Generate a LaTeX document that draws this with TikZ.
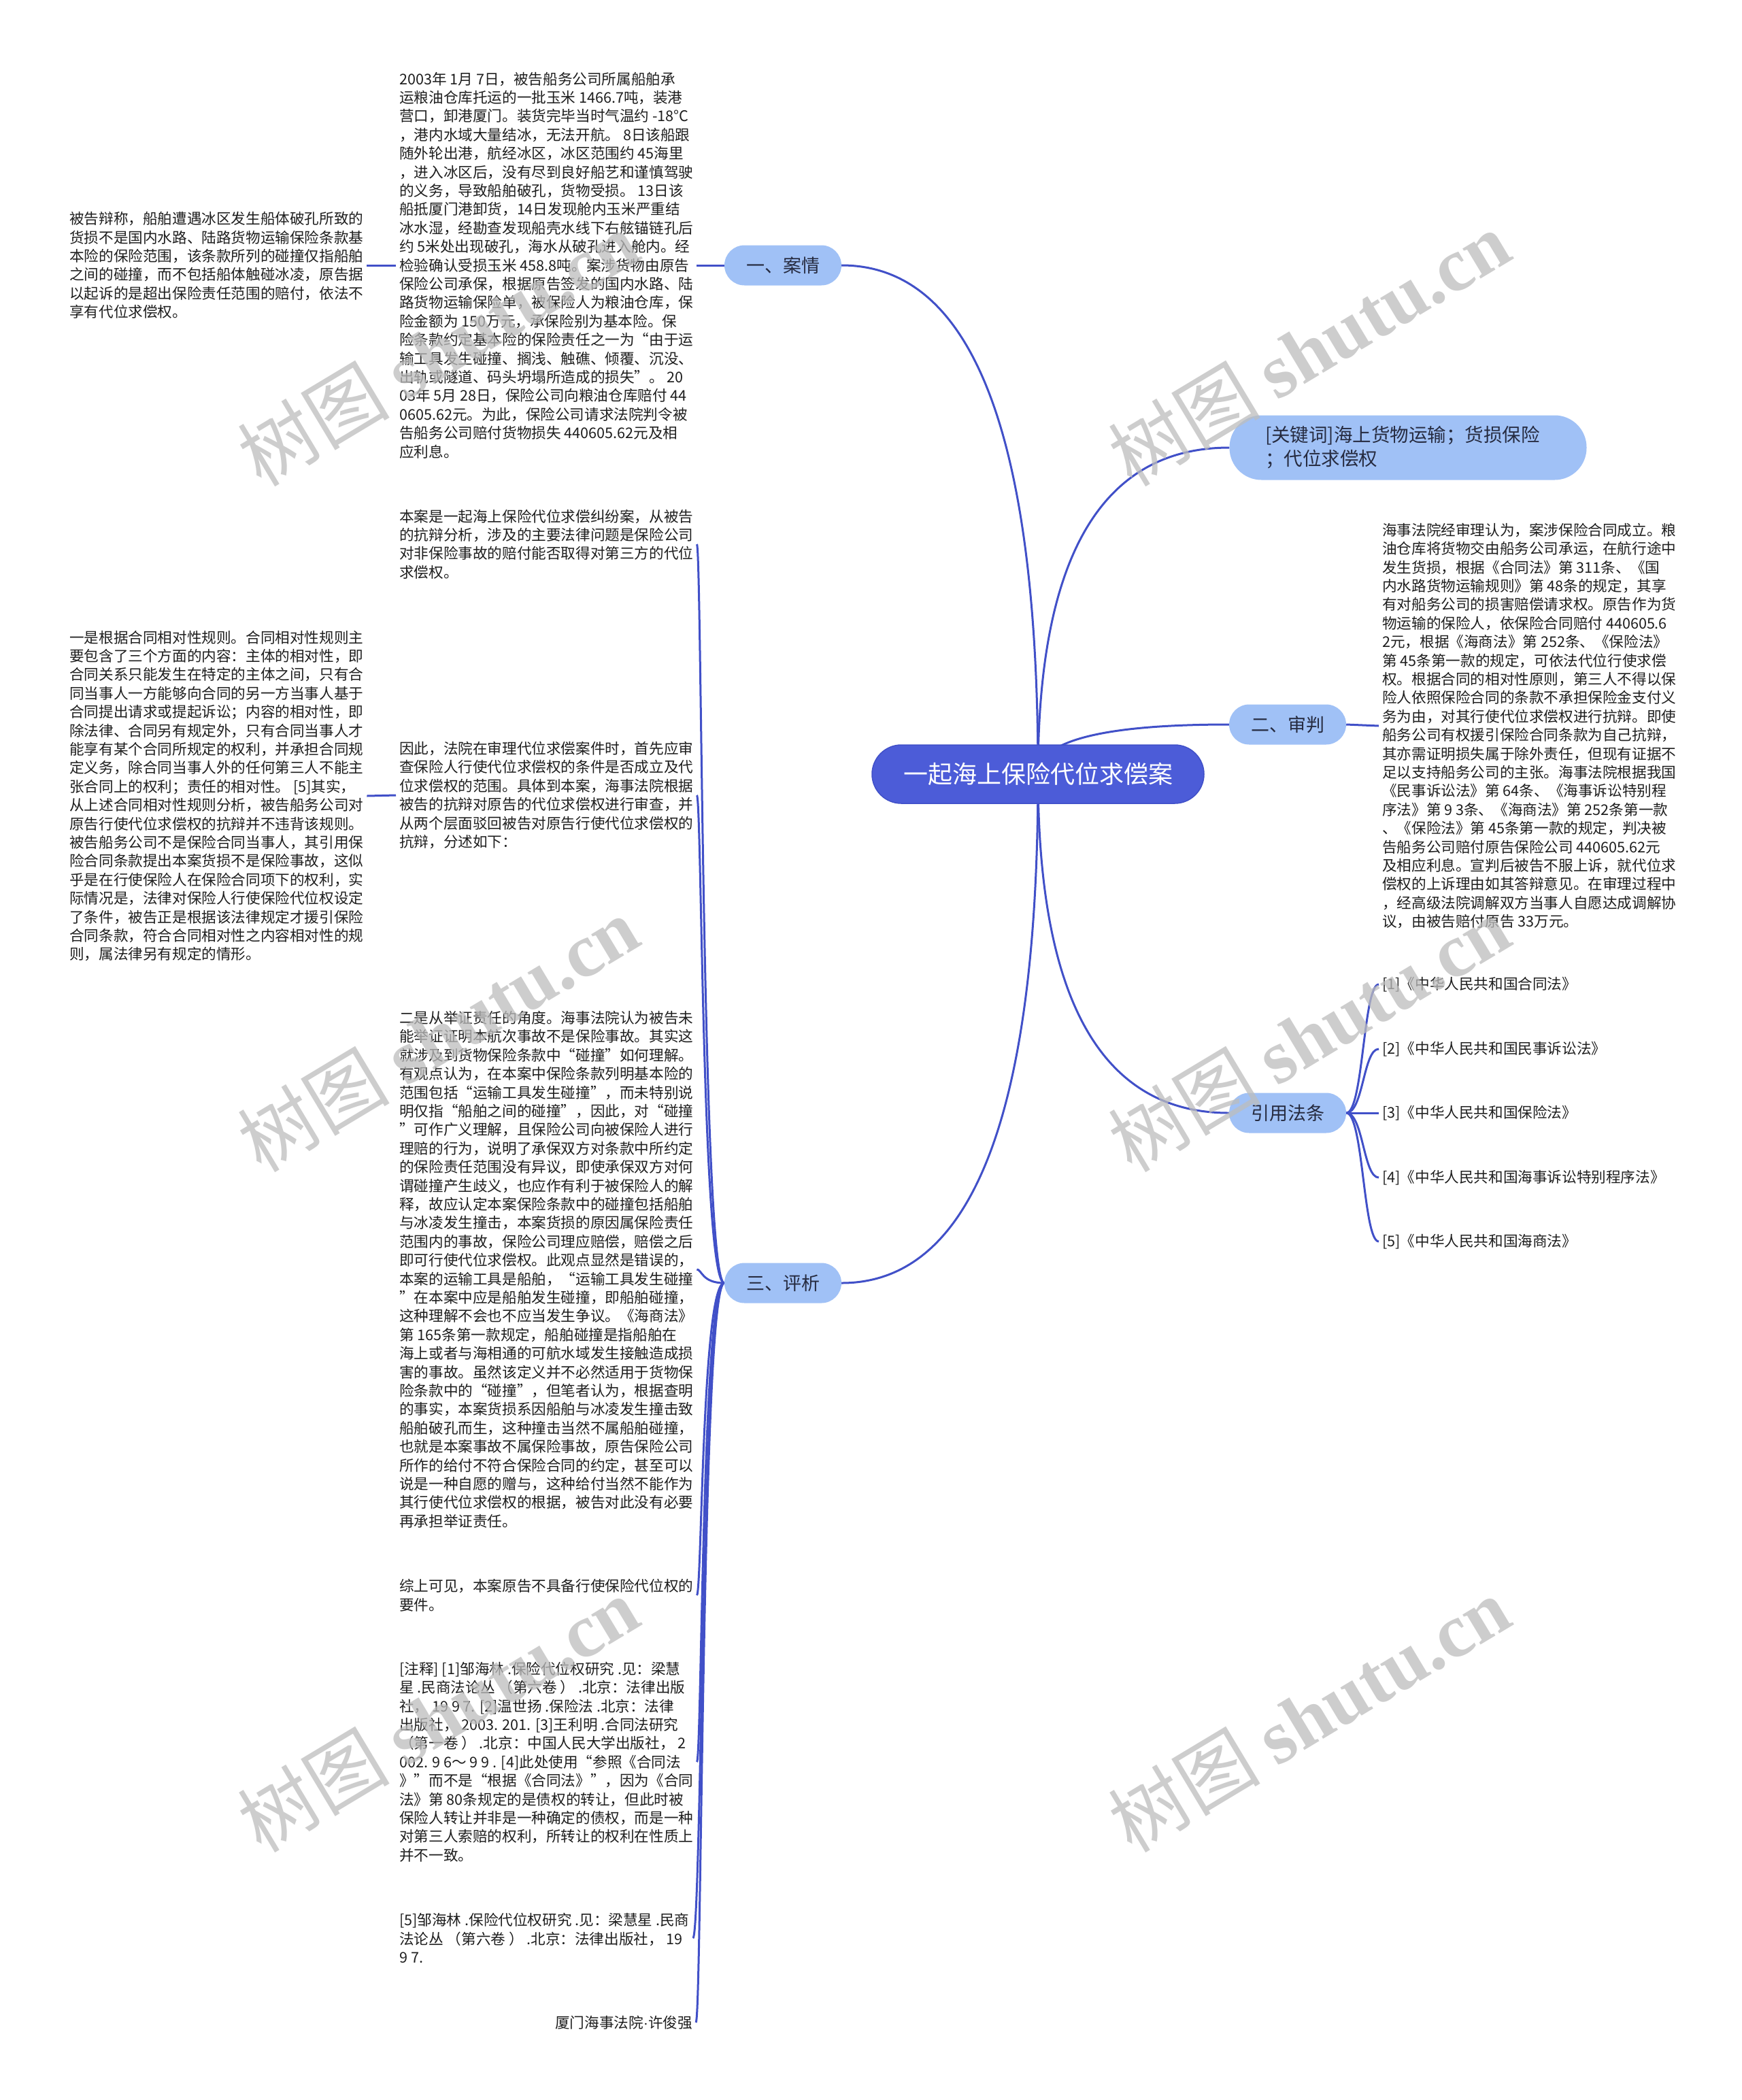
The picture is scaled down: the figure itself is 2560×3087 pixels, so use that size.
\documentclass[tikz,border=0pt]{standalone}
\usepackage{fontspec}
\setmainfont{Noto Sans CJK SC}
\newfontfamily\wmlatin{Liberation Serif}
\newfontfamily\dotfont{Liberation Sans}
\usetikzlibrary{calc}
\definecolor{rootblue}{HTML}{4C5CD8}
\definecolor{rootedge}{HTML}{4050C8}
\definecolor{branchblue}{HTML}{A0C1F6}
\definecolor{linecol}{HTML}{4150C8}
\definecolor{txt}{HTML}{1E1E1E}
\definecolor{branchtext}{HTML}{262B40}
\definecolor{wmgray}{HTML}{BDBDBD}
\pgfdeclarelayer{bg}
\pgfsetlayers{bg,main}
\tikzset{
  rootbox/.style={rounded corners=43pt, fill=rootblue, draw=rootedge, line width=1.5pt,
    minimum width=488pt, minimum height=86pt, inner sep=0pt, text=white,
    font=\fontsize{36}{40}\selectfont},
  branchbox/.style={rounded corners=29.5pt, fill=branchblue, minimum width=172pt,
    minimum height=59pt, inner sep=0pt, text=branchtext, font=\fontsize{27}{32}\selectfont},
  kwbox/.style={rounded corners=47pt, fill=branchblue, minimum width=525pt, minimum height=95pt,
    text width=420pt, align=left, inner xsep=52.5pt, inner ysep=0pt, text=branchtext,
    font=\fontsize{27.5}{35}\selectfont},
  leaf/.style={align=left, anchor=west, inner xsep=5pt, inner ysep=0pt, text=txt,
    font=\fontsize{21.6}{27.4}\selectfont},
  conn/.style={draw=linecol, line width=3pt},
  wmark/.style={rotate=31, text=wmgray, opacity=0.75, inner sep=0pt,
    font=\fontsize{112}{120}\selectfont}
}
\begin{document}
\begin{tikzpicture}[x=1pt,y=-1pt]
\useasboundingbox (0,0) rectangle (2560,3087);

% main nodes
\node[rootbox] (root) at (1526,1138) {一起海上保险代位求偿案};
\node[branchbox] (anqing) at (1151,390) {一、案情};
\node[branchbox] (pingxi) at (1151,1886) {三、评析};
\node[branchbox] (shenpan) at (1893,1065) {二、审判};
\node[branchbox] (fatiao) at (1893,1636) {引用法条};
\node[kwbox] (kw) at (2070,658) {[关键词]海上货物运输；货损保险\\；代位求偿权};

% 案情
\node[leaf] (a1) at (582,390) {2003年 1月 7日，被告船务公司所属船舶承\\
运粮油仓库托运的一批玉米 1466.7吨，装港\\
营口，卸港厦门。装货完毕当时气温约 -18°C\\
，港内水域大量结冰，无法开航。 8日该船跟\\
随外轮出港，航经冰区，冰区范围约 45海里\\
，进入冰区后，没有尽到良好船艺和谨慎驾驶\\
的义务，导致船舶破孔，货物受损。 13日该\\
船抵厦门港卸货，14日发现舱内玉米严重结\\
冰水湿，经勘查发现船壳水线下右舷锚链孔后\\
约 5米处出现破孔，海水从破孔进入舱内。经\\
检验确认受损玉米 458.8吨。案涉货物由原告\\
保险公司承保，根据原告签发的国内水路、陆\\
路货物运输保险单，被保险人为粮油仓库，保\\
险金额为 150万元，承保险别为基本险。保\\
险条款约定基本险的保险责任之一为“由于运\\
输工具发生碰撞、搁浅、触礁、倾覆、沉没、\\
出轨或隧道、码头坍塌所造成的损失”。 20\\
03年 5月 28日，保险公司向粮油仓库赔付 44\\
0605.62元。为此，保险公司请求法院判令被\\
告船务公司赔付货物损失 440605.62元及相\\
应利息。};
\node[leaf] (a2) at (97,390) {被告辩称，船舶遭遇冰区发生船体破孔所致的\\
货损不是国内水路、陆路货物运输保险条款基\\
本险的保险范围，该条款所列的碰撞仅指船舶\\
之间的碰撞，而不包括船体触碰冰凌，原告据\\
以起诉的是超出保险责任范围的赔付，依法不\\
享有代位求偿权。};

% 评析
\node[leaf] (p1) at (582,800) {本案是一起海上保险代位求偿纠纷案，从被告\\
的抗辩分析，涉及的主要法律问题是保险公司\\
对非保险事故的赔付能否取得对第三方的代位\\
求偿权。};
\node[leaf] (p2) at (582,1169) {因此，法院在审理代位求偿案件时，首先应审\\
查保险人行使代位求偿权的条件是否成立及代\\
位求偿权的范围。具体到本案，海事法院根据\\
被告的抗辩对原告的代位求偿权进行审查，并\\
从两个层面驳回被告对原告行使代位求偿权的\\
抗辩，分述如下：};
\node[leaf] (p2a) at (97,1170) {一是根据合同相对性规则。合同相对性规则主\\
要包含了三个方面的内容：主体的相对性，即\\
合同关系只能发生在特定的主体之间，只有合\\
同当事人一方能够向合同的另一方当事人基于\\
合同提出请求或提起诉讼；内容的相对性，即\\
除法律、合同另有规定外，只有合同当事人才\\
能享有某个合同所规定的权利，并承担合同规\\
定义务，除合同当事人外的任何第三人不能主\\
张合同上的权利；责任的相对性。 [5]其实，\\
从上述合同相对性规则分析，被告船务公司对\\
原告行使代位求偿权的抗辩并不违背该规则。\\
被告船务公司不是保险合同当事人，其引用保\\
险合同条款提出本案货损不是保险事故，这似\\
乎是在行使保险人在保险合同项下的权利，实\\
际情况是，法律对保险人行使保险代位权设定\\
了条件，被告正是根据该法律规定才援引保险\\
合同条款，符合合同相对性之内容相对性的规\\
则，属法律另有规定的情形。};
\node[leaf] (p3) at (582,1866) {二是从举证责任的角度。海事法院认为被告未\\
能举证证明本航次事故不是保险事故。其实这\\
就涉及到货物保险条款中“碰撞”如何理解。\\
有观点认为，在本案中保险条款列明基本险的\\
范围包括“运输工具发生碰撞”，而未特别说\\
明仅指“船舶之间的碰撞”，因此，对“碰撞\\
”可作广义理解，且保险公司向被保险人进行\\
理赔的行为，说明了承保双方对条款中所约定\\
的保险责任范围没有异议，即使承保双方对何\\
谓碰撞产生歧义，也应作有利于被保险人的解\\
释，故应认定本案保险条款中的碰撞包括船舶\\
与冰凌发生撞击，本案货损的原因属保险责任\\
范围内的事故，保险公司理应赔偿，赔偿之后\\
即可行使代位求偿权。此观点显然是错误的，\\
本案的运输工具是船舶，“运输工具发生碰撞\\
”在本案中应是船舶发生碰撞，即船舶碰撞，\\
这种理解不会也不应当发生争议。《海商法》\\
第 165条第一款规定，船舶碰撞是指船舶在\\
海上或者与海相通的可航水域发生接触造成损\\
害的事故。虽然该定义并不必然适用于货物保\\
险条款中的“碰撞”，但笔者认为，根据查明\\
的事实，本案货损系因船舶与冰凌发生撞击致\\
船舶破孔而生，这种撞击当然不属船舶碰撞，\\
也就是本案事故不属保险事故，原告保险公司\\
所作的给付不符合保险合同的约定，甚至可以\\
说是一种自愿的赠与，这种给付当然不能作为\\
其行使代位求偿权的根据，被告对此没有必要\\
再承担举证责任。};
\node[leaf] (p4) at (582,2345) {综上可见，本案原告不具备行使保险代位权的\\
要件。};
\node[leaf] (p5) at (582,2590) {[注释] [1]邹海林 .保险代位权研究 .见：梁慧\\
星 .民商法论丛 （第六卷 ） .北京：法律出版\\
社， 19 9 7. [2]温世扬 .保险法 .北京：法律\\
出版社， 2003. 201. [3]王利明 .合同法研究\\
（第一卷 ） .北京：中国人民大学出版社， 2\\
002. 9 6～ 9 9 . [4]此处使用“参照《合同法\\
》”而不是“根据《合同法》”，因为《合同\\
法》第 80条规定的是债权的转让，但此时被\\
保险人转让并非是一种确定的债权，而是一种\\
对第三人索赔的权利，所转让的权利在性质上\\
并不一致。};
\node[leaf] (p6) at (582,2849) {[5]邹海林 .保险代位权研究 .见：梁慧星 .民商\\
法论丛 （第六卷 ） .北京：法律出版社， 19\\
9 7.};
\node[leaf, anchor=east] (p7) at (1023,2973) {厦门海事法院{\dotfont ·}许俊强};

% 审判
\node[leaf] (s1) at (2027,1067) {海事法院经审理认为，案涉保险合同成立。粮\\
油仓库将货物交由船务公司承运，在航行途中\\
发生货损，根据《合同法》第 311条、《国\\
内水路货物运输规则》第 48条的规定，其享\\
有对船务公司的损害赔偿请求权。原告作为货\\
物运输的保险人，依保险合同赔付 440605.6\\
2元，根据《海商法》第 252条、《保险法》\\
第 45条第一款的规定，可依法代位行使求偿\\
权。根据合同的相对性原则，第三人不得以保\\
险人依照保险合同的条款不承担保险金支付义\\
务为由，对其行使代位求偿权进行抗辩。即使\\
船务公司有权援引保险合同条款为自己抗辩，\\
其亦需证明损失属于除外责任，但现有证据不\\
足以支持船务公司的主张。海事法院根据我国\\
《民事诉讼法》第 64条、《海事诉讼特别程\\
序法》第 9 3条、《海商法》第 252条第一款\\
、《保险法》第 45条第一款的规定，判决被\\
告船务公司赔付原告保险公司 440605.62元\\
及相应利息。宣判后被告不服上诉，就代位求\\
偿权的上诉理由如其答辩意见。在审理过程中\\
，经高级法院调解双方当事人自愿达成调解协\\
议，由被告赔付原告 33万元。};

% 引用法条
\node[leaf] (l1) at (2027,1447) {[1]《中华人民共和国合同法》};
\node[leaf] (l2) at (2027,1542) {[2]《中华人民共和国民事诉讼法》};
\node[leaf] (l3) at (2027,1636) {[3]《中华人民共和国保险法》};
\node[leaf] (l4) at (2027,1731) {[4]《中华人民共和国海事诉讼特别程序法》};
\node[leaf] (l5) at (2027,1825) {[5]《中华人民共和国海商法》};

% background and connectors
\begin{pgfonlayer}{bg}
\fill[white] (0,0) rectangle (2560,3087);
\draw[conn] (root.center) .. controls ($(root.center)!0.6667!(root.center |- anqing.east)$) and ($(anqing.east)!0.6667!(root.center |- anqing.east)$) .. (anqing.east);
\draw[conn] (root.center) .. controls ($(root.center)!0.6667!(root.center |- kw.west)$) and ($(kw.west)!0.6667!(root.center |- kw.west)$) .. (kw.west);
\draw[conn] (root.center) .. controls ($(root.center)!0.6667!(root.center |- shenpan.west)$) and ($(shenpan.west)!0.6667!(root.center |- shenpan.west)$) .. (shenpan.west);
\draw[conn] (root.center) .. controls ($(root.center)!0.6667!(root.center |- fatiao.west)$) and ($(fatiao.west)!0.6667!(root.center |- fatiao.west)$) .. (fatiao.west);
\draw[conn] (root.center) .. controls ($(root.center)!0.6667!(root.center |- pingxi.east)$) and ($(pingxi.east)!0.6667!(root.center |- pingxi.east)$) .. (pingxi.east);

\draw[conn] (anqing.west) -- (a1.east);
\draw[conn] (a1.west) -- (a2.east);
\draw[conn] (shenpan.east) -- (s1.west);
\draw[conn] (p2.west) -- (p2a.east);

\foreach \c in {p1,p2,p3,p4,p5,p6,p7}
  \draw[conn] (pingxi.west) .. controls ($(pingxi.west)+(-33,0)$) and ($(pingxi.west |- \c.east)+(-33,0)$) .. (\c.east);
\foreach \c in {l1,l2,l3,l4,l5}
  \draw[conn] (fatiao.east) .. controls ($(fatiao.east)+(25,0)$) and ($(fatiao.east |- \c.west)+(25,0)$) .. (\c.west);
\end{pgfonlayer}

% watermarks
\node[wmark] (wm1) at (644,512) {树图 {\wmlatin\bfseries shutu.cn}};
\node[wmark] (wm2) at (1924,512) {树图 {\wmlatin\bfseries shutu.cn}};
\node[wmark] (wm3) at (644,1520) {树图 {\wmlatin\bfseries shutu.cn}};
\node[wmark] (wm4) at (1924,1520) {树图 {\wmlatin\bfseries shutu.cn}};
\node[wmark] (wm5) at (644,2520) {树图 {\wmlatin\bfseries shutu.cn}};
\node[wmark] (wm6) at (1924,2520) {树图 {\wmlatin\bfseries shutu.cn}};
\end{tikzpicture}
\end{document}
